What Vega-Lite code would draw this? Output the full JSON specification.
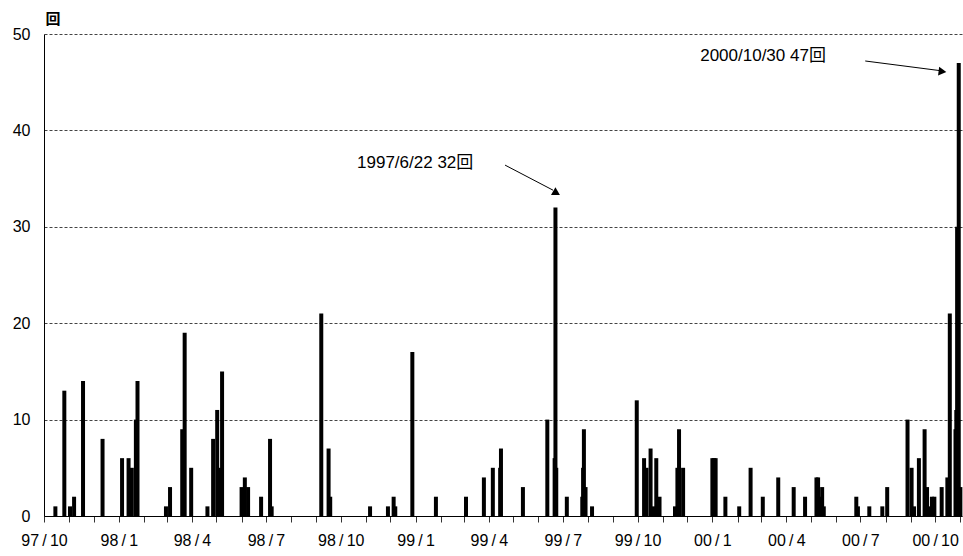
{
  "$schema": "https://vega.github.io/schema/vega-lite/v6.json",
  "width": 918,
  "height": 482,
  "autosize": "none",
  "padding": {"left": 44, "top": 34, "right": 1, "bottom": 40},
  "background": "white",
  "config": {"view": {"stroke": null}, "font": "Liberation Sans, Noto Sans CJK JP"},
  "layer": [
    {
      "data": {"values": [
        {"date": "1997-10-15", "count": 1}, {"date": "1997-10-26", "count": 13}, {"date": "1997-11-02", "count": 1},
        {"date": "1997-11-07", "count": 2}, {"date": "1997-11-18", "count": 14}, {"date": "1997-12-12", "count": 8},
        {"date": "1998-01-05", "count": 6}, {"date": "1998-01-13", "count": 6}, {"date": "1998-01-17", "count": 5},
        {"date": "1998-01-22", "count": 10}, {"date": "1998-01-24", "count": 14}, {"date": "1998-02-28", "count": 1},
        {"date": "1998-03-05", "count": 3}, {"date": "1998-03-20", "count": 9}, {"date": "1998-03-23", "count": 19},
        {"date": "1998-03-31", "count": 5}, {"date": "1998-04-20", "count": 1}, {"date": "1998-04-27", "count": 8},
        {"date": "1998-05-02", "count": 11}, {"date": "1998-05-05", "count": 5}, {"date": "1998-05-08", "count": 15},
        {"date": "1998-06-01", "count": 3}, {"date": "1998-06-05", "count": 4}, {"date": "1998-06-09", "count": 3},
        {"date": "1998-06-25", "count": 2}, {"date": "1998-07-06", "count": 8}, {"date": "1998-07-08", "count": 1},
        {"date": "1998-09-07", "count": 21}, {"date": "1998-09-16", "count": 7}, {"date": "1998-09-18", "count": 2},
        {"date": "1998-11-06", "count": 1}, {"date": "1998-11-28", "count": 1}, {"date": "1998-12-05", "count": 2},
        {"date": "1998-12-07", "count": 1}, {"date": "1998-12-28", "count": 17}, {"date": "1999-01-26", "count": 2},
        {"date": "1999-03-04", "count": 2}, {"date": "1999-03-26", "count": 4}, {"date": "1999-04-06", "count": 5},
        {"date": "1999-04-15", "count": 5}, {"date": "1999-04-16", "count": 7}, {"date": "1999-05-13", "count": 3},
        {"date": "1999-06-12", "count": 10}, {"date": "1999-06-21", "count": 6}, {"date": "1999-06-22", "count": 32},
        {"date": "1999-06-23", "count": 5}, {"date": "1999-07-06", "count": 2}, {"date": "1999-07-25", "count": 2},
        {"date": "1999-07-26", "count": 5}, {"date": "1999-07-27", "count": 9}, {"date": "1999-07-29", "count": 3},
        {"date": "1999-08-06", "count": 1}, {"date": "1999-09-30", "count": 12}, {"date": "1999-10-09", "count": 6},
        {"date": "1999-10-12", "count": 5}, {"date": "1999-10-17", "count": 7}, {"date": "1999-10-20", "count": 1},
        {"date": "1999-10-24", "count": 6}, {"date": "1999-10-28", "count": 2}, {"date": "1999-11-16", "count": 1},
        {"date": "1999-11-19", "count": 5}, {"date": "1999-11-21", "count": 9}, {"date": "1999-11-26", "count": 5},
        {"date": "2000-01-01", "count": 6}, {"date": "2000-01-03", "count": 6}, {"date": "2000-01-05", "count": 6},
        {"date": "2000-01-17", "count": 2}, {"date": "2000-02-03", "count": 1}, {"date": "2000-02-17", "count": 5},
        {"date": "2000-03-03", "count": 2}, {"date": "2000-03-22", "count": 4}, {"date": "2000-04-10", "count": 3},
        {"date": "2000-04-24", "count": 2}, {"date": "2000-05-08", "count": 4}, {"date": "2000-05-10", "count": 4},
        {"date": "2000-05-13", "count": 2}, {"date": "2000-05-15", "count": 3}, {"date": "2000-05-17", "count": 1},
        {"date": "2000-06-26", "count": 2}, {"date": "2000-06-28", "count": 1}, {"date": "2000-07-12", "count": 1},
        {"date": "2000-07-28", "count": 1}, {"date": "2000-08-03", "count": 3}, {"date": "2000-08-28", "count": 10},
        {"date": "2000-09-02", "count": 5}, {"date": "2000-09-05", "count": 1}, {"date": "2000-09-11", "count": 6},
        {"date": "2000-09-18", "count": 9}, {"date": "2000-09-21", "count": 3}, {"date": "2000-09-23", "count": 1},
        {"date": "2000-09-27", "count": 2}, {"date": "2000-09-30", "count": 2}, {"date": "2000-10-09", "count": 3},
        {"date": "2000-10-16", "count": 4}, {"date": "2000-10-19", "count": 21}, {"date": "2000-10-26", "count": 9},
        {"date": "2000-10-27", "count": 11}, {"date": "2000-10-28", "count": 30}, {"date": "2000-10-30", "count": 47},
        {"date": "2000-11-01", "count": 3}
      ]},
      "mark": {"type": "rule", "strokeWidth": 4, "color": "black", "strokeCap": "butt"},
      "encoding": {
        "x": {
          "field": "date", "type": "temporal",
          "scale": {"type": "utc", "domain": [{"year": 1997, "month": 10, "date": 1, "utc": true}, {"year": 2000, "month": 11, "date": 3, "utc": true}]},
          "axis": {
            "title": null, "grid": false,
            "tickCount": {"interval": "month", "step": 1},
            "labelExpr": "utcmonth(datum.value) % 3 == 0 ? utcFormat(datum.value, '%y') + '\u2009/\u2009' + (utcmonth(datum.value) + 1) : ''",
            "domainColor": "black", "tickColor": "#333", "tickSize": 6,
            "labelFontSize": 16, "labelColor": "black", "labelPadding": 10,
            "labelOverlap": false, "labelFlush": false, "labelBound": false
          }
        },
        "y": {
          "field": "count", "type": "quantitative",
          "scale": {"domain": [0, 50], "nice": false},
          "axis": {
            "values": [0, 10, 20, 30, 40, 50],
            "ticks": false, "tickSize": 0, "labelPadding": 14,
            "labelFontSize": 16, "labelColor": "black",
            "domainColor": "black",
            "grid": true, "gridColor": "#444", "gridDash": [3, 2], "gridWidth": 1,
            "title": "回", "titleAngle": 0, "titleX": 1, "titleY": -11,
            "titleAlign": "left", "titleBaseline": "alphabetic",
            "titleFontSize": 15, "titleFontWeight": "bold", "titleColor": "black"
          }
        },
        "y2": {"datum": 0}
      }
    },
    {
      "data": {"values": [
        {"date": "1998-10-21", "v": 36.6, "label": "1997/6/22 32回"},
        {"date": "1999-12-17", "v": 47.7, "label": "2000/10/30 47回"}
      ]},
      "mark": {"type": "text", "align": "left", "baseline": "middle", "fontSize": 17, "color": "black"},
      "encoding": {
        "x": {"field": "date", "type": "temporal"},
        "y": {"field": "v", "type": "quantitative"},
        "text": {"field": "label"}
      }
    },
    {
      "data": {"values": [
        {"date": "1999-04-21", "v": 36.4, "date2": "1999-06-19", "v2": 33.8},
        {"date": "2000-07-07", "v": 47.2, "date2": "2000-10-07", "v2": 46.2}
      ], "format": {"parse": {"date": "date", "date2": "date"}}},
      "mark": {"type": "rule", "strokeWidth": 1, "color": "black"},
      "encoding": {
        "x": {"field": "date", "type": "temporal"},
        "x2": {"field": "date2"},
        "y": {"field": "v", "type": "quantitative"},
        "y2": {"field": "v2"}
      }
    },
    {
      "data": {"values": [{"date": "1999-06-22", "v": 33.7}]},
      "mark": {"type": "point", "shape": "triangle-up", "filled": true, "color": "black", "opacity": 1, "size": 80, "angle": 0},
      "encoding": {
        "x": {"field": "date", "type": "temporal"},
        "y": {"field": "v", "type": "quantitative"}
      }
    },
    {
      "data": {"values": [{"date": "2000-10-10", "v": 46.1}]},
      "mark": {"type": "point", "shape": "triangle-up", "filled": true, "color": "black", "opacity": 1, "size": 80, "angle": 97},
      "encoding": {
        "x": {"field": "date", "type": "temporal"},
        "y": {"field": "v", "type": "quantitative"}
      }
    }
  ]
}
